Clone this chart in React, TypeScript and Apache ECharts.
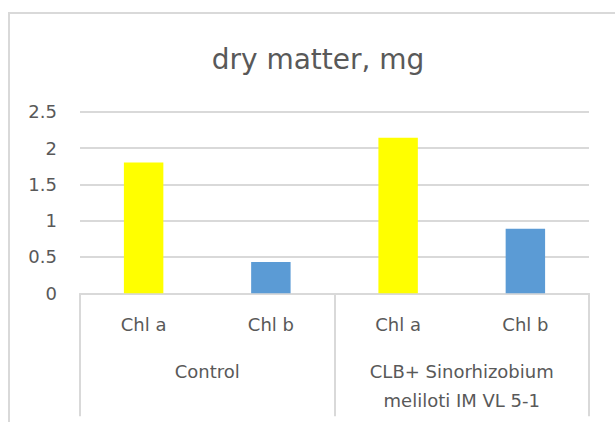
import React, { useEffect, useRef } from "react";
import * as echarts from "echarts";

const titleText = "dry matter, mg";
const categories = ["Chl a", "Chl b", "Chl a", "Chl b"];
const values = [1.8, 0.43, 2.14, 0.89];
const barColors = ["#FFFF00", "#5B9BD5", "#FFFF00", "#5B9BD5"];
const groups = ["Control", "CLB+ Sinorhizobium\nmeliloti IM VL 5-1"];
const yTicks = { min: 0, max: 2.5, interval: 0.5 };

const FONT = "DejaVu Sans";
const TXT = "#595959";
const GRID = "#d9d9d9";

export default function App() {
  const ref = useRef<HTMLDivElement>(null);
  useEffect(() => {
    if (!ref.current) return;
    const chart = echarts.init(ref.current, undefined, { renderer: "svg" });
    chart.setOption({
      animation: false,
      title: {
        text: titleText,
        left: 313,
        textAlign: "center",
        top: 40,
        textStyle: { fontFamily: FONT, fontSize: 28, fontWeight: "normal", color: TXT },
      },
      grid: { left: 80, right: 26, top: 111.7, bottom: 128.7, containLabel: false },
      xAxis: [
        {
          type: "category",
          data: categories,
          position: "bottom",
          axisLine: { show: true, lineStyle: { color: GRID, width: 2 } },
          axisTick: { show: false },
          axisLabel: { fontFamily: FONT, fontSize: 18, color: TXT, margin: 22, lineHeight: 19 },
        },
        {
          type: "category",
          data: groups,
          position: "bottom",
          boundaryGap: true,
          axisLine: { show: false },
          axisTick: { show: true, length: 123, lineStyle: { color: GRID, width: 2 } },
          axisLabel: {
            fontFamily: FONT,
            fontSize: 18,
            color: TXT,
            margin: 64,
            lineHeight: 29,
            align: "center",
          },
        },
      ],
      yAxis: {
        type: "value",
        min: yTicks.min,
        max: yTicks.max,
        interval: yTicks.interval,
        axisLine: { show: false },
        axisTick: { show: false },
        splitLine: { lineStyle: { color: GRID, width: 2 } },
        axisLabel: { fontFamily: FONT, fontSize: 18, color: TXT, margin: 23 },
      },
      series: [
        {
          type: "bar",
          xAxisIndex: 0,
          barWidth: "31%",
          data: values.map((v, i) => ({ value: v, itemStyle: { color: barColors[i] } })),
        },
      ],
    });
    return () => chart.dispose();
  }, []);
  return (
    <div
      style={{
        position: "absolute",
        left: 0,
        top: 0,
        width: 615,
        height: 422,
        overflow: "hidden",
        background: "#ffffff",
      }}
    >
      <div
        style={{
          position: "absolute",
          left: 8,
          top: 12,
          width: 900,
          height: 900,
          borderTop: "2px solid #d9d9d9",
          borderLeft: "2px solid #d9d9d9",
          boxSizing: "border-box",
        }}
      />
      <div
        ref={ref}
        style={{ position: "absolute", left: 0, top: 0, width: 615, height: 422 }}
      />
    </div>
  );
}
